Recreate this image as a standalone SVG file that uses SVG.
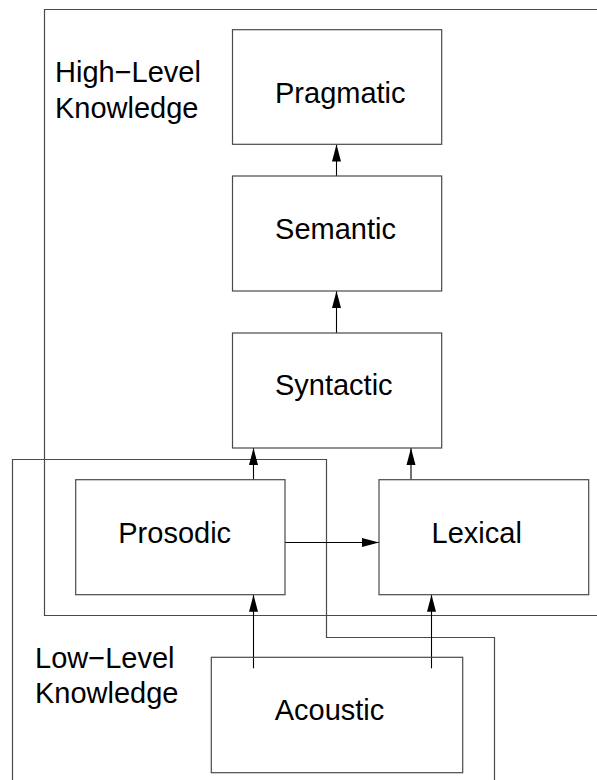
<svg xmlns="http://www.w3.org/2000/svg" width="597" height="780" viewBox="0 0 597 780">
  <style>
    .box { fill: #ffffff; stroke: #4a4a4a; stroke-width: 1.2; }
    .frame { fill: none; stroke: #4a4a4a; stroke-width: 1.2; }
    .edge { fill: none; stroke: #000000; stroke-width: 1.1; marker-end: url(#arrow); }
    .label { font-family: "Liberation Sans", Arial, Helvetica, sans-serif; font-size: 29px; fill: #000000; }
    .node-label { text-anchor: middle; }
  </style>
  <defs>
    <marker id="arrow" markerUnits="userSpaceOnUse" markerWidth="18" markerHeight="10" refX="17" refY="5" orient="auto">
      <path d="M0,0.5 L17,5 L0,9.5 Z" fill="#000000"/>
    </marker>
  </defs>

  <rect width="597" height="780" fill="#ffffff"/>

  <!-- knowledge level frames -->
  <g id="high-level-frame">
    <path class="frame" d="M598,9.5 H44.5 V615.5 H598"/>
    <text class="label" x="55" y="81.7">High−Level</text>
    <text class="label" x="55" y="118.3">Knowledge</text>
  </g>
  <g id="low-level-frame">
    <path class="frame" d="M12.5,781 V459.5 H326.5 V637.5 H494.5 V781"/>
    <text class="label" x="35" y="668.3">Low−Level</text>
    <text class="label" x="35" y="703.3">Knowledge</text>
  </g>

  <!-- connectors -->
  <g id="connectors">
    <line class="edge" x1="336.5" y1="176" x2="336.5" y2="144.5"/>
    <line class="edge" x1="336.5" y1="333" x2="336.5" y2="291"/>
    <line class="edge" x1="253.5" y1="479.5" x2="253.5" y2="448"/>
    <line class="edge" x1="411" y1="479.5" x2="411" y2="448"/>
    <line class="edge" x1="285" y1="542.5" x2="379" y2="542.5"/>
    <line class="edge" x1="253.5" y1="668.3" x2="253.5" y2="594.7"/>
    <line class="edge" x1="431.5" y1="668.3" x2="431.5" y2="594.7"/>
  </g>

  <!-- knowledge source nodes -->
  <g id="pragmatic">
    <rect class="box" x="232.5" y="29.7" width="209.2" height="114.6"/>
    <text class="label node-label" x="340.3" y="102.7">Pragmatic</text>
  </g>
  <g id="semantic">
    <rect class="box" x="232.5" y="176" width="209.2" height="115"/>
    <text class="label node-label" x="335.5" y="239.3">Semantic</text>
  </g>
  <g id="syntactic">
    <rect class="box" x="232.5" y="333" width="209.2" height="115"/>
    <text class="label node-label" x="333.8" y="395">Syntactic</text>
  </g>
  <g id="prosodic">
    <rect class="box" x="75.7" y="479.7" width="209.3" height="115"/>
    <text class="label node-label" x="174.7" y="542.7">Prosodic</text>
  </g>
  <g id="lexical">
    <rect class="box" x="379" y="479.7" width="209.7" height="115"/>
    <text class="label node-label" x="476.7" y="542.7">Lexical</text>
  </g>
  <g id="acoustic">
    <rect class="box" x="211.3" y="657.3" width="251.4" height="115.4" fill="none" style="fill:none"/>
    <text class="label node-label" x="329.5" y="720">Acoustic</text>
  </g>
</svg>
